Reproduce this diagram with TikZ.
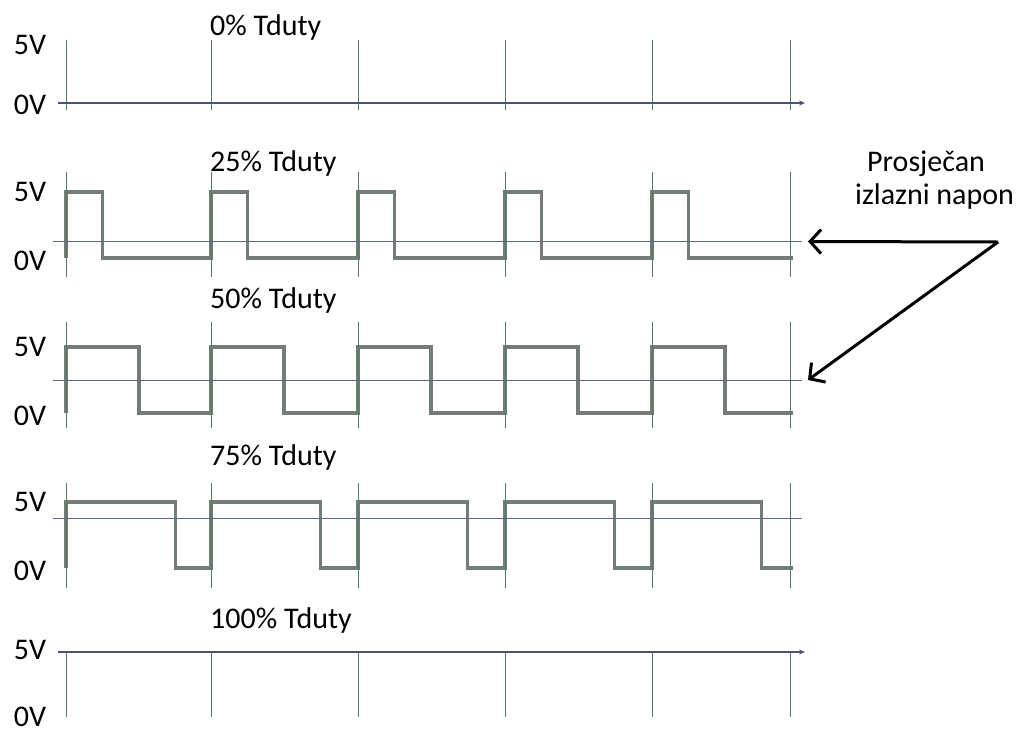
\documentclass[tikz,border=0pt]{standalone}
\usepackage{fontspec}
\setmainfont{Carlito}
\usetikzlibrary{arrows.meta}
\definecolor{wavegray}{HTML}{747C77}
\definecolor{tickgreen}{HTML}{4F7C63}
\definecolor{levelblue}{HTML}{5A6488}
\definecolor{railblue}{HTML}{4B5374}
\tikzset{
  lbl/.style={font=\fontsize{30}{33}\selectfont, inner sep=0pt},
  title/.style={lbl, anchor=west},
  tickline/.style={draw=tickgreen, line width=1pt},
  wave/.style={draw=wavegray, line width=3.5pt, line join=miter},
  avgline/.style={draw=levelblue, line width=1pt},
  rail/.style={draw=railblue, line width=2.8pt, -{Stealth[length=6pt,width=5pt]}},
  pointer/.style={draw=black, line width=3pt, -{Straight Barb[length=11pt,width=24pt]}}
}
\begin{document}
\begin{tikzpicture}[x=1pt,y=-1pt]
	\useasboundingbox (0,0) rectangle (1034,734);

	% 0% Tduty
	\node[title] (t0) at (210,27) {0\% Tduty};
	\node[lbl] (hi0) at (30,45) {5V};
	\node[lbl] (lo0) at (30,105) {0V};
	\foreach \x in {66,211,358,505,652,790}
		\draw[tickline] (\x,40) -- (\x,110);
	\draw[rail] (58,103) -- (805,103);

	% 25%, 50% and 75% Tduty
	\foreach \d/\hi/\lo/\top/\bot/\ty in {25/192/258/172/277/163, 50/347/413/322/428/300, 75/502/568/483/588/457} {
		\pgfmathsetmacro\avg{\lo-\d/100*(\lo-\hi)}
		\node[title] (t\d) at (210,\ty) {\d\% Tduty};
		\node[lbl] (hi\d) at (30,\hi) {5V};
		\node[lbl] (lo\d) at (30,\lo+3) {0V};
		\draw[wave] (66,\lo)
			\foreach \x in {66,211,358,505,652} { -- (\x,\lo) -- (\x,\hi) -- ({\x+1.46*\d},\hi) -- ({\x+1.46*\d},\lo) }
			-- (793,\lo);
		\foreach \x in {66,211,358,505,652,790}
			\draw[tickline] (\x,\top) -- (\x,\bot);
		\draw[avgline] (53,\avg) -- (802,\avg);
		\coordinate (avg\d) at (808,\avg);
	}

	% 100% Tduty
	\node[title] (t100) at (210,620) {100\% Tduty};
	\node[lbl] (hi100) at (30,650) {5V};
	\node[lbl] (lo100) at (30,717) {0V};
	\foreach \x in {66,211,358,505,652,790}
		\draw[tickline] (\x,652) -- (\x,717);
	\draw[rail] (58,652) -- (805,652);

	% average voltage note
	\node[lbl, align=left, anchor=west] (note) at (855,180) {\hspace*{12pt}Prosječan\\izlazni napon};
	\coordinate (fork) at (998,242);
	\draw[pointer] (fork) -- (avg25);
	\draw[pointer] (fork) -- (avg50);
\end{tikzpicture}
\end{document}
